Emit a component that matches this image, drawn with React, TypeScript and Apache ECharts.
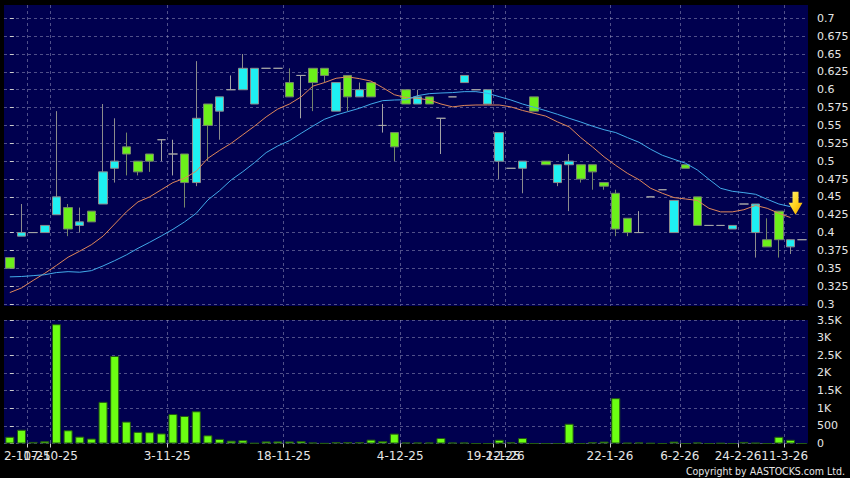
import React, { useEffect, useRef } from 'react';
import * as echarts from 'echarts';

// ---- data ----
const categories = Array.from({ length: 69 }, (_, i) => 'D' + (i + 1));

const open = [0.365,0.395,0.40,0.40,0.425,0.435,0.41,0.43,0.44,0.49, 0.52,0.50,0.51,0.53,0.51,0.51,0.47,0.58,0.57,0.60, 0.60,0.58,0.63,0.63,0.61,0.62,0.63,0.63,0.57,0.62, 0.59,0.61,0.55,0.54,0.60,0.58,0.59,0.56,0.59,0.61, 0.60,0.58,0.50,0.49,0.49,0.59,0.50,0.47,0.495,0.495, 0.495,0.47,0.455,0.42,0.40,0.45,0.46,0.40,0.495,0.45, 0.41,0.41,0.405,0.44,0.40,0.39,0.43,0.38,0.39];
const close = [0.35,0.40,0.40,0.41,0.45,0.405,0.415,0.415,0.485,0.50, 0.51,0.485,0.50,0.53,0.51,0.47,0.56,0.55,0.59,0.60, 0.63,0.63,0.63,0.63,0.59,0.62,0.61,0.62,0.61,0.59, 0.60,0.59,0.55,0.52,0.58,0.59,0.58,0.56,0.59,0.62, 0.60,0.60,0.54,0.49,0.50,0.57,0.495,0.495,0.50,0.475, 0.485,0.465,0.405,0.40,0.40,0.45,0.46,0.445,0.49,0.41, 0.41,0.41,0.41,0.44,0.44,0.38,0.39,0.39,0.39];
const low = [0.35,0.395,0.40,0.40,0.425,0.395,0.40,0.415,0.44,0.47, 0.48,0.48,0.485,0.50,0.48,0.435,0.465,0.50,0.53,0.60, 0.60,0.58,0.63,0.63,0.59,0.56,0.57,0.61,0.57,0.57, 0.59,0.59,0.54,0.50,0.58,0.58,0.58,0.51,0.59,0.61, 0.60,0.58,0.475,0.49,0.455,0.57,0.495,0.465,0.43,0.47, 0.46,0.46,0.395,0.395,0.40,0.45,0.46,0.40,0.49,0.41, 0.41,0.41,0.405,0.44,0.365,0.38,0.365,0.37,0.39];
const high = [0.365,0.44,0.40,0.41,0.57,0.44,0.435,0.43,0.58,0.56, 0.54,0.50,0.51,0.53,0.53,0.51,0.64,0.58,0.59,0.62, 0.65,0.63,0.63,0.63,0.63,0.62,0.63,0.63,0.61,0.62, 0.61,0.61,0.58,0.54,0.60,0.60,0.59,0.56,0.59,0.62, 0.60,0.60,0.54,0.49,0.50,0.59,0.50,0.495,0.51,0.495, 0.495,0.47,0.46,0.42,0.43,0.45,0.46,0.445,0.495,0.45, 0.41,0.41,0.41,0.44,0.44,0.42,0.43,0.39,0.39];

const maShort = [0.316,0.3225,0.333,0.343,0.354,0.3655,0.374,0.383,0.395,0.412, 0.429,0.443,0.45,0.46,0.47,0.476,0.486,0.504,0.515,0.525, 0.537,0.549,0.562,0.573,0.58,0.59,0.605,0.61,0.616,0.618, 0.6155,0.612,0.603,0.593,0.589,0.588,0.5856,0.58,0.576,0.578, 0.5786,0.5786,0.5786,0.576,0.571,0.567,0.563,0.555,0.548,0.533, 0.52,0.506,0.494,0.483,0.474,0.462,0.455,0.449,0.447,0.445, 0.434,0.429,0.429,0.432,0.438,0.434,0.427,0.421,null];
const maLong = [0.338,0.3385,0.3397,0.341,0.344,0.3453,0.3445,0.3467,0.3533,0.3607, 0.3687,0.378,0.3864,0.3953,0.4046,0.415,0.427,0.4457,0.4587,0.4737, 0.4853,0.498,0.512,0.5213,0.5287,0.539,0.549,0.5586,0.5646,0.5693, 0.574,0.58,0.5847,0.5856,0.586,0.5917,0.5945,0.5954,0.596,0.5973, 0.5973,0.595,0.5903,0.5856,0.58,0.5754,0.5707,0.5656,0.56,0.5548, 0.549,0.544,0.54,0.533,0.5264,0.5166,0.5082,0.5026,0.497,0.4877, 0.4746,0.462,0.4578,0.4559,0.4536,0.4466,0.44,0.4363,null];

const volume = [190,390,45,65,3380,375,195,140,1180,2480, 620,330,320,285,835,780,913,232,130,80, 95,12,60,60,58,70,28,5,40,40, 40,110,70,280,28,28,28,155,28,28, 0,0,105,35,155,0,0,0,560,0, 38,55,1285,20,30,12,0,55,0,30, 0,12,0,45,20,0,190,105,0];

const tickIndex = [2, 4, 14, 24, 34, 42, 43, 52, 58, 63, 67];
const tickLabels = ['2-10-25', '17-10-25', '3-11-25', '18-11-25', '4-12-25', '19-12-25', '2-1-26', '22-1-26', '6-2-26', '24-2-26', '11-3-26'];
const priceTicks = [0.3, 0.325, 0.35, 0.375, 0.4, 0.425, 0.45, 0.475, 0.5, 0.525, 0.55, 0.575, 0.6, 0.625, 0.65, 0.675, 0.7];
const arrowPoint = { index: 67, value: 0.441 };

// ---- styles ----
const NAVY = '#00004f';
const GRID_LINE = { show: true, lineStyle: { color: 'rgba(160,160,195,0.5)', type: [3, 3] as any, width: 1 } };
const LABEL = { color: '#e6e6e6', fontSize: 11, fontFamily: 'DejaVu Sans' };

export default function App() {
  const ref = useRef<HTMLDivElement>(null);
  useEffect(() => {
    if (!ref.current) return;
    const chart = echarts.init(ref.current, null, { renderer: 'svg' });
    const boundaries = tickIndex.map((i) => i - 0.5);
    // split labels into two non-overlapping sets so none gets auto-hidden
    const setB = [1, 6, 10];
    const labelsA = boundaries.filter((_, k) => setB.indexOf(k) < 0);
    const labelsB = boundaries.filter((_, k) => setB.indexOf(k) >= 0);
    const fmt = (v: number) => { const k = boundaries.indexOf(v); return k >= 0 ? tickLabels[k] : ''; };
    const n = categories.length;
    const labelAxis = (vals: number[], withTicks: boolean, withSplit: boolean) => ({
      type: 'value', gridIndex: 1, position: 'bottom', offset: 0, min: -0.5, max: n - 0.5,
      axisLine: { show: false },
      axisTick: { show: withTicks, length: 4, customValues: boundaries, lineStyle: { color: '#cccccc' } },
      axisLabel: { show: true, customValues: vals, ...LABEL, fontSize: 12, margin: 6,
        hideOverlap: false, showMinLabel: true, showMaxLabel: true, formatter: fmt },
      splitLine: withSplit ? GRID_LINE : { show: false },
    });
    const option: any = {
      animation: false,
      backgroundColor: '#000000',
      grid: [
        { left: 4, top: 5, width: 804, height: 301, show: true, backgroundColor: NAVY, borderWidth: 0, containLabel: false, outerBoundsMode: 'none' },
        { left: 4, top: 320, width: 804, height: 123.5, show: true, backgroundColor: NAVY, borderWidth: 0, containLabel: false, outerBoundsMode: 'none' },
      ],
      xAxis: [
        { type: 'category', gridIndex: 0, position: 'top', data: categories, boundaryGap: true,
          axisLine: { show: false }, axisTick: { show: false }, axisLabel: { show: false }, splitLine: { show: false } },
        { type: 'value', gridIndex: 0, position: 'bottom', min: -0.5, max: n - 0.5,
          axisLine: { show: false }, axisTick: { show: false, customValues: boundaries },
          axisLabel: { show: false, customValues: boundaries }, splitLine: GRID_LINE },
        { type: 'category', gridIndex: 1, position: 'top', data: categories, boundaryGap: true,
          axisLine: { show: false }, axisTick: { show: false }, axisLabel: { show: false }, splitLine: { show: false } },
        labelAxis(labelsA, true, true),
        labelAxis(labelsB, false, false),
      ],
      yAxis: [
        { type: 'value', gridIndex: 0, position: 'right', min: 0.2972, max: 0.71862,
          axisLine: { show: false },
          axisTick: { show: true, length: 4, customValues: priceTicks, lineStyle: { color: '#cccccc' } },
          axisLabel: { show: true, customValues: priceTicks, ...LABEL, margin: 9,
            formatter: (v: number) => String(Math.round(v * 1000) / 1000) },
          splitLine: GRID_LINE },
        { type: 'value', gridIndex: 1, position: 'right', min: 0, max: 3500, interval: 500,
          axisLine: { show: false },
          axisTick: { show: true, length: 4, lineStyle: { color: '#cccccc' } },
          axisLabel: { show: true, ...LABEL, margin: 9,
            formatter: (v: number) => (v >= 1000 ? String(v / 1000) + 'K' : String(v)) },
          splitLine: GRID_LINE },
      ],
      series: [
        {
          type: 'candlestick', xAxisIndex: 0, yAxisIndex: 0, barWidth: 9,
          data: open.map((o, i) => [o, close[i], low[i], high[i]]),
          itemStyle: { color: '#1ff0f2', color0: '#6cf01a', borderColor: '#8c8c8c', borderColor0: '#76866a', borderColorDoji: '#a4a4a4', borderWidth: 1 },
          markPoint: {
            silent: true,
            symbol: 'path://M4,0L10,0L10,11L14,11L7,23L0,11L4,11Z',
            symbolSize: [14, 23], symbolOffset: [5, 0],
            label: { show: false },
            itemStyle: {
              color: new echarts.graphic.LinearGradient(0, 0, 1, 1, [
                { offset: 0, color: '#fff27a' }, { offset: 0.55, color: '#ffd21a' }, { offset: 1, color: '#e89a00' },
              ]),
            },
            data: [{ coord: [categories[arrowPoint.index], arrowPoint.value] }],
          },
        },
        { type: 'line', xAxisIndex: 0, yAxisIndex: 0, data: maShort, symbol: 'none', showSymbol: false,
          lineStyle: { color: '#e0875a', width: 1 }, z: 3 },
        { type: 'line', xAxisIndex: 0, yAxisIndex: 0, data: maLong, symbol: 'none', showSymbol: false,
          lineStyle: { color: '#42aaea', width: 1 }, z: 3 },
        { type: 'bar', xAxisIndex: 2, yAxisIndex: 1, data: volume, barWidth: 9,
          itemStyle: { color: '#6cff12', borderColor: '#235a12', borderWidth: 1 } },
      ],
      graphic: [
        { type: 'text', right: 5, top: 465,
          style: { text: 'Copyright by AASTOCKS.com Ltd.', fill: '#e6e6e6',
            font: '10.5px "DejaVu Sans Condensed", "Liberation Sans Narrow", "DejaVu Sans", sans-serif' } },
      ],
    };
    chart.setOption(option);
    return () => chart.dispose();
  }, []);
  return <div ref={ref} style={{ position: 'fixed', left: 0, top: 0, width: 850, height: 478, background: '#000' }} />;
}
